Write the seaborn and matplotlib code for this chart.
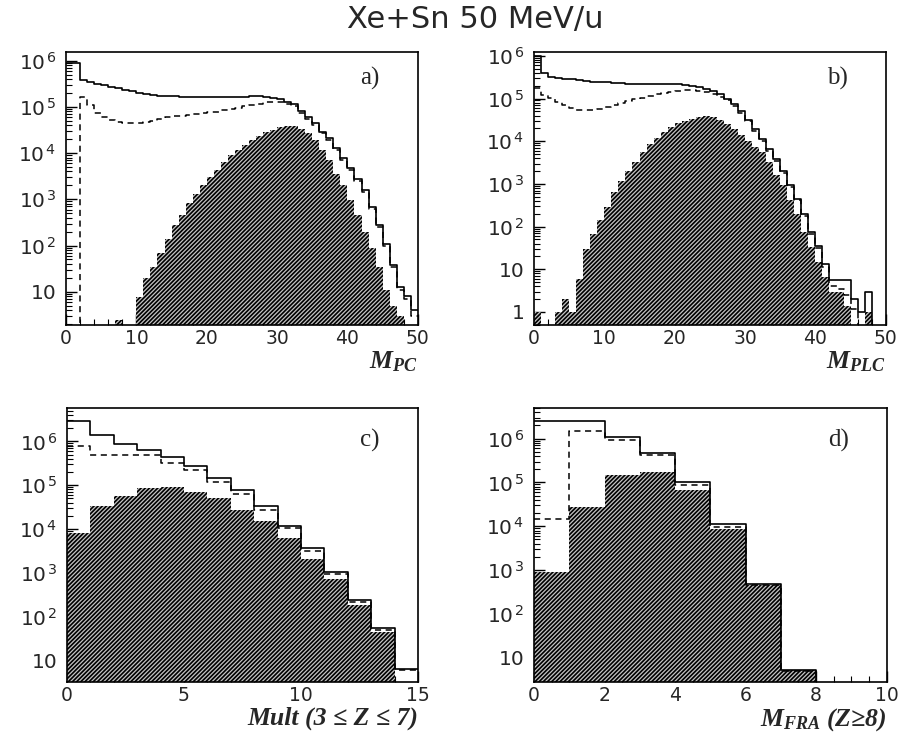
import numpy as np
import pandas as pd
import matplotlib
matplotlib.use("Agg")
import matplotlib.pyplot as plt
import matplotlib.ticker as mticker
import seaborn as sns

# counts per unit bin
# a) M_PC
mpc_total = [9e5, 9e5, 3.8e5, 3.4e5, 3.1e5, 2.9e5, 2.7e5, 2.5e5, 2.3e5, 2.15e5,
             2e5, 1.9e5, 1.8e5, 1.75e5, 1.7e5, 1.68e5, 1.66e5, 1.65e5, 1.65e5, 1.65e5,
             1.65e5, 1.65e5, 1.65e5, 1.65e5, 1.66e5, 1.67e5, 1.68e5, 1.68e5, 1.65e5, 1.58e5,
             1.45e5, 1.3e5, 1.15e5, 8e4, 6e4, 4.4e4, 2.9e4, 2.1e4, 1.26e4, 7.7e3,
             4.7e3, 2.8e3, 1.6e3, 690, 275, 110, 38, 13, 8, 4]
mpc_dashed = [0, 0, 1.6e5, 1.1e5, 7.5e4, 6e4, 5.2e4, 4.8e4, 4.5e4, 4.4e4,
              4.4e4, 4.6e4, 4.9e4, 5.4e4, 5.9e4, 6.2e4, 6.5e4, 6.8e4, 7.1e4, 7.4e4,
              7.7e4, 7.9e4, 8.4e4, 9e4, 9.6e4, 1.03e5, 1.1e5, 1.18e5, 1.25e5, 1.28e5,
              1.25e5, 1.15e5, 1.02e5, 7.2e4, 5.5e4, 4e4, 2.7e4, 1.9e4, 1.15e4, 7e3,
              4.3e3, 2.5e3, 1.45e3, 620, 250, 100, 34, 11, 7, 3]
mpc_shaded = [0, 0, 0, 0, 0, 0, 0, 2.5, 0, 0,
              7.9, 20, 35, 68, 140, 280, 460, 820, 1300, 2000,
              3100, 4300, 6500, 9100, 11600, 15000, 19000, 24000, 29000, 32000,
              36000, 38000, 38000, 34000, 27000, 19000, 11600, 7100, 3600, 2000,
              960, 450, 200, 88, 35, 11, 5, 3, 0, 0]

# b) M_PLC
mplc_total = [1e6, 4e5, 3.2e5, 3e5, 2.9e5, 2.8e5, 2.7e5, 2.6e5, 2.5e5, 2.45e5,
              2.4e5, 2.3e5, 2.25e5, 2.2e5, 2.2e5, 2.2e5, 2.2e5, 2.2e5, 2.2e5, 2.2e5,
              2.15e5, 2.1e5, 2e5, 1.9e5, 1.7e5, 1.5e5, 1.25e5, 1e5, 7.5e4, 5e4,
              3.2e4, 1.9e4, 1.1e4, 6.6e3, 3.8e3, 2e3, 920, 450, 200, 74,
              36, 13, 5.5, 5.5, 5.5, 2, 1, 3, 0, 0]
mplc_dashed = [1.8e5, 1.2e5, 1.05e5, 8.5e4, 7e4, 6e4, 5.5e4, 5.3e4, 5.4e4, 5.8e4,
               6.3e4, 7e4, 7.8e4, 8.7e4, 9.6e4, 1.05e5, 1.15e5, 1.25e5, 1.35e5, 1.45e5,
               1.5e5, 1.55e5, 1.55e5, 1.5e5, 1.4e5, 1.3e5, 1.1e5, 9e4, 6.8e4, 4.5e4,
               2.9e4, 1.7e4, 1e4, 6e3, 3.4e3, 1.8e3, 850, 410, 180, 68,
               32, 11, 4, 3.5, 2.5, 1.2, 0, 0, 0, 0]
mplc_shaded = [1, 0, 0, 1, 2, 1, 6, 30, 68, 140,
               285, 640, 1200, 2000, 3300, 5500, 8500, 12000, 16500, 21000,
               26000, 30000, 34000, 37000, 38000, 36000, 31000, 25000, 19000, 14000,
               10000, 7500, 5500, 3200, 1600, 920, 410, 200, 74, 33,
               15, 6.6, 2.9, 2.9, 1.4, 0, 0, 1, 0, 0]

# c) Mult (3 <= Z <= 7)
mult_total = [2.9e6, 1.4e6, 8.8e5, 6.5e5, 4.4e5, 2.7e5, 1.45e5, 7.6e4, 3.3e4, 1.2e4,
              3.6e3, 1.05e3, 235, 54, 6.5]
mult_dashed = [7.9e5, 4.9e5, 4.9e5, 4.9e5, 3.2e5, 2.2e5, 1.2e5, 6.3e4, 2.7e4, 1.05e4,
               3.2e3, 950, 215, 50, 6]
mult_shaded = [7.9e3, 3.3e4, 5.7e4, 8.6e4, 8.9e4, 7.1e4, 5e4, 2.7e4, 1.5e4, 6.1e3,
               2.1e3, 740, 180, 45, 0]

# d) M_FRA (Z>=8)
fra_total = [2.5e6, 2.5e6, 1.1e6, 4.7e5, 1.05e5, 1.1e4, 490, 5.4, 0, 0]
fra_dashed = [1.5e4, 1.5e6, 9.2e5, 4.3e5, 8.9e4, 9.8e3, 460, 5, 0, 0]
fra_shaded = [910, 2.8e4, 1.5e5, 1.7e5, 6.8e4, 8.9e3, 460, 5.2, 0, 0]

sns.set_theme(style="ticks", rc={"xtick.direction": "in", "ytick.direction": "in"})
plt.rcParams['font.family'] = ['DejaVu Sans']
plt.rcParams['mathtext.fontset'] = 'custom'
plt.rcParams['mathtext.it'] = 'Liberation Serif:bold:italic'
plt.rcParams['mathtext.rm'] = 'Liberation Serif:bold'
plt.rcParams['mathtext.bf'] = 'Liberation Serif:bold'
plt.rcParams['hatch.linewidth'] = 1.2
plt.rcParams['axes.edgecolor'] = 'black'


def log_label(v, pos):
    if v <= 1.01:
        return '1'
    if v < 11:
        return '10'
    return r'$\mathregular{10^{\,%d}}$' % round(np.log10(v))


def draw_panel(ax, total, dashed, shaded, ylim, xmajor, xminor, xlabel, tag, tag_y):
    nbins = len(total)
    edges = list(range(nbins + 1))
    df = pd.DataFrame({'x': np.arange(nbins) + 0.5, 'total': total,
                       'dashed': dashed, 'shaded': shaded})
    sns.histplot(data=df, x='x', weights='shaded', bins=edges, element='bars',
                 fill=True, color='#c4c4c4', alpha=1, hatch='////////',
                 edgecolor='black', linewidth=0, ax=ax)
    sns.histplot(data=df, x='x', weights='dashed', bins=edges, element='step',
                 fill=False, color='black', linestyle=(0, (4, 3)), linewidth=1.1, ax=ax)
    sns.histplot(data=df, x='x', weights='total', bins=edges, element='step',
                 fill=False, color='black', linewidth=1.2, ax=ax)
    ax.set_yscale('log')
    ax.set_xlim(0, nbins)
    ax.set_ylim(*ylim)
    # only the decades inside the visible range get a labelled tick
    lo, hi = int(np.ceil(np.log10(ylim[0]))), int(np.floor(np.log10(ylim[1])))
    decades = [10.0 ** k for k in range(lo, hi + 1)]
    minors = [m * 10.0 ** k for k in range(lo - 1, hi + 1) for m in range(2, 10)
              if ylim[0] <= m * 10.0 ** k <= ylim[1]]
    ax.xaxis.set_major_locator(mticker.MultipleLocator(xmajor))
    ax.xaxis.set_minor_locator(mticker.MultipleLocator(xminor))
    ax.yaxis.set_major_locator(mticker.FixedLocator(decades))
    ax.yaxis.set_minor_locator(mticker.FixedLocator(minors))
    ax.yaxis.set_major_formatter(mticker.FuncFormatter(log_label))
    ax.yaxis.set_minor_formatter(mticker.NullFormatter())
    ax.tick_params(which='major', length=8, width=1, color='black')
    ax.tick_params(axis='y', which='major', pad=7, labelsize=14.5)
    ax.tick_params(axis='x', which='major', pad=3, labelsize=13.5)
    ax.tick_params(which='minor', length=4, width=0.8, color='black')
    for s in ax.spines.values():
        s.set_visible(True)
        s.set_linewidth(1.2)
    ax.set_ylabel('')
    ax.set_xlabel(xlabel, loc='right', fontsize=18.5, family='Liberation Serif',
                  fontweight='bold', fontstyle='italic', labelpad=1)
    ax.text(0.864, tag_y, tag, transform=ax.transAxes, ha='center', va='center',
            fontsize=18, family='Liberation Serif')


fig = plt.figure(figsize=(9.02, 7.39), dpi=100)
ax_a = fig.add_axes([0.0732, 0.560, 0.390, 0.369])
ax_b = fig.add_axes([0.592, 0.560, 0.390, 0.369])
ax_c = fig.add_axes([0.0743, 0.077, 0.389, 0.371])
ax_d = fig.add_axes([0.592, 0.077, 0.391, 0.371])

draw_panel(ax_a, mpc_total, mpc_dashed, mpc_shaded, (1.9, 1.5e6), 10, 2,
           r'$M_{PC}$', 'a)', 0.905)
draw_panel(ax_b, mplc_total, mplc_dashed, mplc_shaded, (0.49, 1.2e6), 10, 2,
           r'$M_{PLC}$', 'b)', 0.905)
draw_panel(ax_c, mult_total, mult_dashed, mult_shaded, (3.2, 5.8e6), 5, 1,
           'Mult (3 ≤ Z ≤ 7)', 'c)', 0.883)
draw_panel(ax_d, fra_total, fra_dashed, fra_shaded, (2.8, 5e6), 2, 0.5,
           r'$M_{FRA}$ (Z≥8)', 'd)', 0.883)

fig.text(0.527, 0.973, 'Xe+Sn 50 MeV/u', ha='center', va='center', fontsize=22)

fig.savefig('out.png', dpi=100)
